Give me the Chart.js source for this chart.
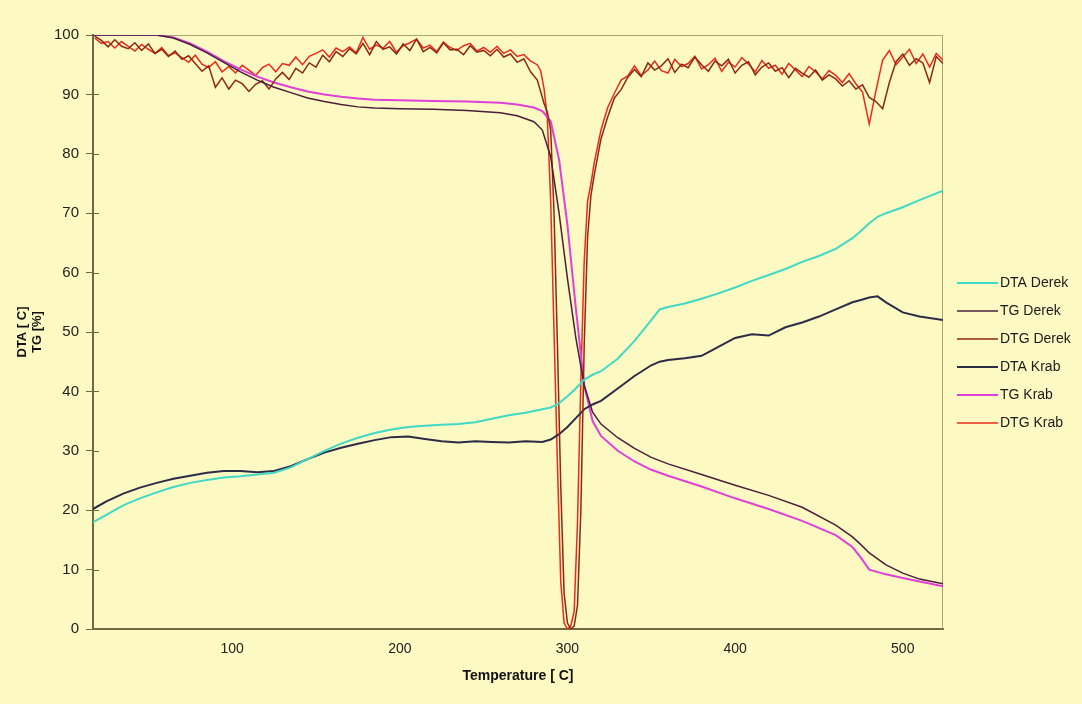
<!DOCTYPE html>
<html>
<head>
<meta charset="utf-8">
<script src="https://cdn.jsdelivr.net/npm/chart.js@4.4.0/dist/chart.umd.min.js"></script>
<style>
  html, body { margin: 0; padding: 0; background: #fdf9c2; }
  #wrap { width: 1082px; height: 704px; position: relative; }
</style>
</head>
<body>
<div id="wrap"><canvas id="chart"></canvas></div>
<script>
// Thermal analysis curves (DTA / TG / DTG) for two samples

const seriesNames = ['DTA Derek', 'TG Derek', 'DTG Derek', 'DTA Krab', 'TG Krab', 'DTG Krab'];
const xTickValues = [100, 200, 300, 400, 500];

// DTA curves
const dtaTemp = [17, 25, 35, 45, 55, 65, 75, 85, 95, 105, 115, 125, 135, 145, 155, 165, 175, 185, 195, 205,
  215, 225, 235, 245, 255, 265, 275, 285, 290, 295, 300, 305, 310, 315, 320, 330, 340, 350, 355, 360,
  370, 380, 390, 400, 410, 420, 430, 440, 450, 460, 470, 475, 480, 485, 490, 500, 510, 524];
const dtaDerek = [18.0, 19.2, 20.8, 22.0, 23.0, 23.9, 24.6, 25.1, 25.5, 25.7, 26.0, 26.3, 27.2, 28.6, 30.0, 31.2, 32.2, 33.0, 33.6, 34.0,
  34.2, 34.4, 34.5, 34.8, 35.4, 36.0, 36.4, 37.0, 37.3, 38.0, 39.2, 40.5, 42.0, 42.8, 43.4, 45.5, 48.5, 52.0, 53.8, 54.2,
  54.8, 55.6, 56.5, 57.5, 58.6, 59.6, 60.6, 61.8, 62.8, 64.0, 65.8, 67.0, 68.3, 69.4, 70.0, 71.0, 72.2, 73.8];
const dtaKrab = [20.2, 21.5, 22.8, 23.8, 24.6, 25.3, 25.8, 26.3, 26.6, 26.6, 26.4, 26.6, 27.4, 28.6, 29.7, 30.5, 31.2, 31.8, 32.3, 32.4,
  32.0, 31.6, 31.4, 31.6, 31.5, 31.4, 31.6, 31.5, 31.9, 32.8, 34.0, 35.5, 37.0, 37.8, 38.4, 40.5, 42.6, 44.4, 45.0, 45.3,
  45.6, 46.0, 47.5, 49.0, 49.6, 49.4, 50.8, 51.6, 52.6, 53.8, 55.0, 55.4, 55.8, 56.0, 55.0, 53.3, 52.6, 52.0];

// TG curves
const tgTemp = [17, 30, 45, 55, 65, 75, 85, 95, 105, 115, 125, 135, 145, 155, 165, 175, 185, 200, 220, 240,
  260, 270, 280, 285, 290, 295, 300, 305, 310, 315, 320, 330, 340, 350, 360, 380, 400, 420, 440, 460,
  470, 475, 480, 490, 500, 510, 524];
const tgDerek = [100, 100, 100, 100, 99.5, 98.4, 97.0, 95.4, 93.8, 92.4, 91.2, 90.3, 89.4, 88.8, 88.3, 87.9, 87.7, 87.6, 87.5, 87.3,
  86.9, 86.4, 85.4, 84.0, 79.5, 70.0, 59.0, 49.0, 41.0, 36.5, 34.5, 32.2, 30.4, 28.9, 27.8, 26.0, 24.2, 22.5, 20.5, 17.5,
  15.5, 14.2, 12.8, 10.8, 9.4, 8.4, 7.6];
const tgKrab = [100, 100, 100, 100, 99.6, 98.6, 97.2, 95.6, 94.2, 93.0, 92.0, 91.2, 90.5, 90.0, 89.6, 89.3, 89.1, 89.0, 88.9, 88.8,
  88.6, 88.3, 87.8, 87.2, 85.5, 79.0, 68.0, 54.0, 41.0, 35.0, 32.5, 30.0, 28.2, 26.8, 25.8, 24.0, 22.0, 20.2, 18.2, 15.8,
  13.8, 12.0, 10.0, 9.2, 8.6, 8.0, 7.2];

// DTG curves
const dtgTemp = [18, 22, 26, 30, 34, 38, 42, 46, 50, 54, 58, 62, 66, 70, 74, 78, 82, 86, 90, 94,
  98, 102, 106, 110, 114, 118, 122, 126, 130, 134, 138, 142, 146, 150, 154, 158, 162, 166, 170, 174,
  178, 182, 186, 190, 194, 198, 202, 206, 210, 214, 218, 222, 226, 230, 234, 238, 242, 246, 250, 254,
  258, 262, 266, 270, 274, 278, 282,
  284, 286, 288, 290, 292, 294, 296, 298, 300, 302, 304, 306, 308, 310, 312, 314, 316,
  320, 324, 328, 332, 336, 340, 344, 348, 352, 356, 360, 364, 368, 372, 376, 380, 384, 388, 392, 396,
  400, 404, 408, 412, 416, 420, 424, 428, 432, 436, 440, 444, 448, 452, 456, 460, 464, 468, 472, 476,
  480, 484, 488, 492, 496, 500, 504, 508, 512, 516, 520, 524];
const dtgDerek = [99.8, 99.1, 98.0, 99.2, 98.1, 97.7, 98.7, 97.4, 98.5, 96.9, 97.6, 96.4, 97.3, 95.9, 96.5, 95.2, 93.9, 94.8, 91.2, 92.8,
  90.9, 92.4, 91.8, 90.5, 91.7, 92.3, 90.9, 92.6, 93.7, 92.5, 94.4, 93.6, 95.3, 94.6, 96.6, 95.5, 97.2, 96.4, 97.7, 96.8,
  98.6, 96.7, 98.9, 97.6, 98.0, 96.8, 98.5, 97.4, 99.3, 97.2, 97.9, 97.0, 98.7, 97.5, 97.6, 96.7, 98.2, 97.1, 97.4, 96.5,
  97.6, 96.3, 96.8, 95.4, 96.0, 93.8, 92.4,
  90.5, 88.5, 87.0, 84.0, 70.0, 48.0, 24.0, 6.0, 1.0, 0.0, 0.5, 4.0, 20.0, 48.0, 66.0, 73.0, 76.5,
  82.5, 86.2, 89.4, 90.8, 92.9, 94.2, 93.0, 95.3, 94.1, 94.8, 96.0, 93.7, 95.1, 94.5, 96.3, 95.0, 93.9, 95.6, 94.8, 95.9,
  93.6, 94.9, 95.5, 93.3, 94.6, 95.3, 93.9, 94.5, 92.8, 94.4, 93.6, 92.9, 94.1, 92.4, 93.3, 92.6, 91.4, 92.3, 90.9, 91.6,
  89.5, 88.8, 87.6, 92.0, 95.5, 96.8, 94.9, 96.0, 95.3, 92.0, 96.4, 95.2];
const dtgKrab = [99.5, 98.6, 98.9, 97.8, 98.9, 98.1, 97.3, 98.4, 97.6, 96.9, 97.9, 96.5, 97.0, 96.2, 95.4, 96.6, 95.1, 94.5, 95.5, 93.8,
  94.7, 93.6, 94.9, 94.1, 93.2, 94.5, 95.1, 93.8, 95.2, 94.9, 96.3, 95.0, 96.4, 96.9, 97.5, 96.3, 97.8, 97.2, 98.0, 97.0,
  99.6, 97.6, 98.3, 97.8, 98.9, 97.1, 98.2, 98.7, 99.3, 97.8, 98.3, 97.2, 98.8, 97.9, 97.4, 98.2, 98.6, 97.3, 97.9, 97.1,
  98.1, 96.9, 97.5, 96.4, 96.7, 95.6, 95.0,
  94.0, 91.0, 86.0, 72.0, 50.0, 28.0, 8.0, 1.0, 0.0, 0.5, 3.0, 18.0, 42.0, 62.0, 72.0, 75.0, 78.5,
  84.0, 87.8, 90.2, 92.4, 93.1, 94.8, 93.2, 94.1, 95.6, 94.0, 93.6, 95.9, 94.7, 95.2, 96.4, 94.3, 95.0, 96.1, 93.9, 95.4,
  94.6, 96.2, 95.1, 93.8, 95.7, 94.4, 94.9, 93.4, 95.2, 94.1, 93.0, 94.7, 93.8, 92.6, 94.0, 93.2, 92.0, 93.5, 91.8, 90.4,
  85.0, 90.6, 95.8, 97.4, 95.0, 96.3, 97.6, 95.2, 96.8, 94.6, 96.9, 95.8];

const seriesTemps = [dtaTemp, tgTemp, dtgTemp, dtaTemp, tgTemp, dtgTemp];
const seriesValues = [dtaDerek, tgDerek, dtgDerek, dtaKrab, tgKrab, dtgKrab];
const seriesColors = ['#3fd9c6', '#4a1f3c', '#8a2a12', '#2c2c48', '#e040d8', '#ec2a1c'];
const seriesWidths = [2, 1.5, 1.5, 2, 2, 1.5];

const axisColor = '#6e6940';
const fontFamily = "'Liberation Sans', Arial, sans-serif";

// plot frame (top and right edges thinner and lighter) and y ticks crossing the axis
const framePlugin = {
  id: 'frame',
  beforeDatasetsDraw(chart) {
    const { ctx, chartArea: a } = chart;
    ctx.save();
    ctx.strokeStyle = '#a9a470';
    ctx.lineWidth = 1;
    ctx.beginPath();
    ctx.moveTo(a.left, a.top + 0.5);
    ctx.lineTo(a.right - 0.5, a.top + 0.5);
    ctx.lineTo(a.right - 0.5, a.bottom);
    ctx.stroke();

    const ys = chart.scales.y;
    ctx.strokeStyle = axisColor;
    ctx.beginPath();
    ys.ticks.forEach(t => {
      const py = Math.round(ys.getPixelForValue(t.value)) + 0.5;
      ctx.moveTo(a.left, py);
      ctx.lineTo(a.left + 6, py);
    });
    ctx.stroke();
    ctx.restore();
  }
};

// legend to the right of the plot
const legendPlugin = {
  id: 'sideLegend',
  afterDraw(chart) {
    const ctx = chart.ctx;
    ctx.save();
    ctx.font = '14px ' + fontFamily;
    ctx.textBaseline = 'middle';
    ctx.fillStyle = '#1a1a1a';
    chart.data.datasets.forEach((ds, i) => {
      const y = 283 + i * 28;
      ctx.strokeStyle = ds.borderColor;
      ctx.lineWidth = ds.borderWidth;
      ctx.beginPath();
      ctx.moveTo(957, y);
      ctx.lineTo(998, y);
      ctx.stroke();
      ctx.fillText(ds.label, 1000, y);
    });
    ctx.restore();
  }
};

const ctx = document.getElementById('chart').getContext('2d');
const chart = new Chart(ctx, {
  type: 'line',
  data: {
    datasets: seriesNames.map((name, i) => ({
      label: name,
      data: seriesTemps[i].map((t, j) => ({ x: t, y: seriesValues[i][j] })),
      borderColor: seriesColors[i],
      borderWidth: seriesWidths[i],
      pointRadius: 0,
      tension: 0,
      fill: false
    }))
  },
  options: {
    responsive: true,
    maintainAspectRatio: false,
    animation: false,
    layout: { padding: { left: 0, top: 35, right: 139, bottom: 0 } },
    plugins: {
      legend: { display: false },
      tooltip: { enabled: false }
    },
    scales: {
      x: {
        type: 'linear',
        min: 17,
        max: 524,
        afterFit: s => { s.height = 75; },
        afterBuildTicks: s => { s.ticks = xTickValues.map(v => ({ value: v })); },
        grid: { display: false, drawTicks: false },
        border: { display: true, color: axisColor, width: 2 },
        ticks: { color: '#222', padding: 12, font: { family: fontFamily, size: 14 } },
        title: {
          display: true,
          text: 'Temperature [ C]',
          color: '#111',
          font: { family: fontFamily, size: 14, weight: 'bold' },
          padding: { top: 19, bottom: 19 }
        }
      },
      y: {
        min: 0,
        max: 100,
        afterFit: s => { s.width = 93; },
        ticks: { stepSize: 10, color: '#222', padding: 7, font: { family: fontFamily, size: 15 } },
        grid: { drawOnChartArea: false, drawTicks: true, tickLength: 7, color: axisColor, lineWidth: 1 },
        border: { display: true, color: axisColor, width: 2 },
        title: {
          display: true,
          text: ['DTA [ C]', 'TG [%]'],
          color: '#111',
          font: { family: fontFamily, size: 13, weight: 'bold', lineHeight: 1.15 },
          padding: { top: 15, bottom: 0 }
        }
      }
    }
  },
  plugins: [framePlugin, legendPlugin]
});
</script>
</body>
</html>
